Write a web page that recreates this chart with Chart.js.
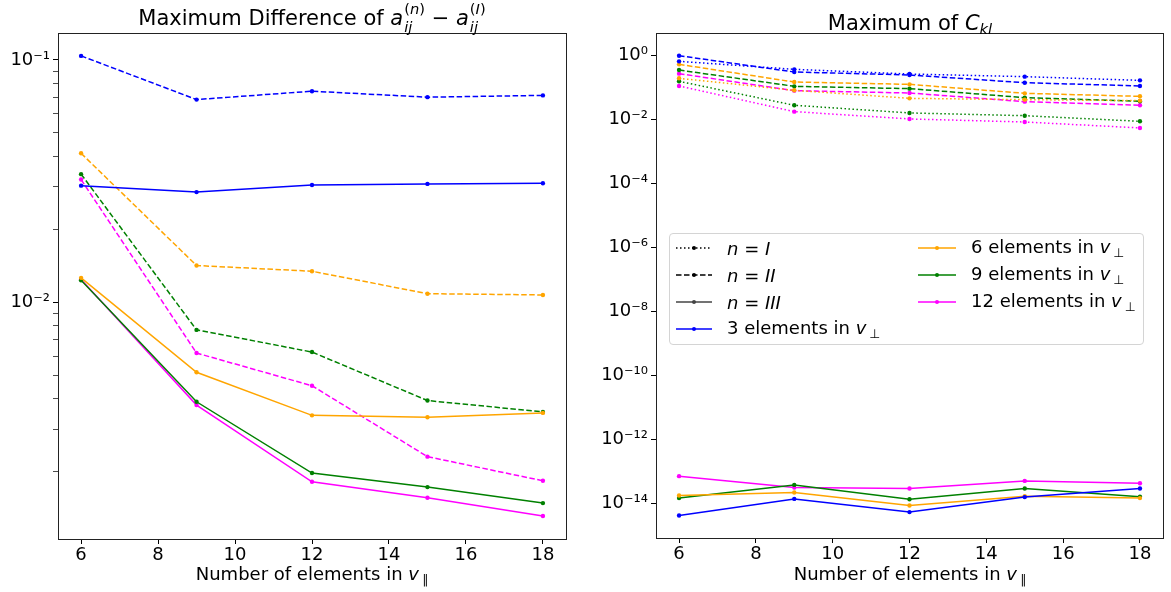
<!DOCTYPE html>
<html>
<head>
<meta charset="utf-8">
<script src="https://cdn.jsdelivr.net/npm/chart.js@4/dist/chart.umd.min.js"></script>
<style>
  body { margin: 0; background: #fff; font-family: 'DejaVu Sans', sans-serif; color: #000; }
  #wrap { position: relative; width: 1171px; height: 592px; overflow: hidden; }
  canvas { position: absolute; top: 0; }
  .title { position: absolute; font-size: 21px; line-height: 21px; white-space: nowrap; transform: translateX(-50%); }
  .xlabel { position: absolute; font-size: 18px; line-height: 18px; white-space: nowrap; transform: translateX(-50%); }
  /* stacked sub/superscript: subscript has zero width, superscript sets the width */
  .ss { font-size: 14.7px; margin-left: 1px; }
  .ss .dn { display: inline-block; width: 0; position: relative; top: 7px; }
  .ss .up { position: relative; top: -11px; }
  .sub { font-size: 0.7em; vertical-align: -0.3em; margin-left: 3px; }
  .legend { position: absolute; left: 669px; top: 233px; width: 475px; height: 112px;
            border: 1px solid #d4d4d4; border-radius: 4px; background: rgba(255,255,255,0.8); box-sizing: border-box; }
  .entry { position: absolute; height: 20px; display: flex; align-items: center; font-size: 18px; white-space: nowrap; }
  .entry svg { margin-right: 15px; }
</style>
</head>
<body>
<div id="wrap">
  <canvas id="diffChart" width="580" height="592" style="left:0"></canvas>
  <canvas id="cklChart" width="591" height="592" style="left:580px"></canvas>

  <div class="title" style="left:312px; top:8px">Maximum Difference of <i>a</i><span class="ss"><span class="dn"><i>ij</i></span><span class="up">(<i>n</i>)</span></span> − <i>a</i><span class="ss"><span class="dn"><i>ij</i></span><span class="up">(<i>I</i>)</span></span></div>
  <div class="title" style="left:910px; top:13px">Maximum of <i>C</i><span class="sub" style="margin-left:0"><i>kl</i></span></div>

  <div class="xlabel" style="left:312px; top:565px">Number of elements in <i>v</i><span class="sub">∥</span></div>
  <div class="xlabel" style="left:910px; top:565px">Number of elements in <i>v</i><span class="sub">∥</span></div>

  <div class="legend" id="legend"></div>
</div>

<script>
// x positions: number of elements in v_parallel
const nPar = [6, 9, 12, 15, 18];

// max |a_ij^(n) - a_ij^(I)|, n = II (dashed) and n = III (solid)
const diffII_3  = [0.1039, 0.0686, 0.0743, 0.0702, 0.0714];
const diffIII_3 = [0.0303, 0.0285, 0.0305, 0.0308, 0.0310];
const diffII_6  = [0.0412, 0.01419, 0.01344, 0.01086, 0.01073];
const diffIII_6 = [0.01262, 0.00515, 0.00342, 0.00336, 0.00350];
const diffII_9  = [0.0338, 0.0077, 0.00624, 0.003937, 0.003534];
const diffIII_9 = [0.01234, 0.00389, 0.001977, 0.00173, 0.001486];
const diffII_12  = [0.0321, 0.00618, 0.00453, 0.00231, 0.001837];
const diffIII_12 = [0.01242, 0.00377, 0.00182, 0.001563, 0.001315];

// max C_kl for n = I (dotted), II (dashed), III (solid)
const cklI_3   = [0.665, 0.374, 0.267, 0.221, 0.169];
const cklII_3  = [1.0, 0.309, 0.249, 0.143, 0.113];
const cklIII_3 = [4.2e-15, 1.39e-14, 5.37e-15, 1.58e-14, 2.95e-14];
const cklI_6   = [0.196, 0.0826, 0.0464, 0.0422, 0.0393];
const cklII_6  = [0.536, 0.150, 0.127, 0.0665, 0.0536];
const cklIII_6 = [1.78e-14, 2.21e-14, 8.66e-15, 1.69e-14, 1.47e-14];
const cklI_9   = [0.158, 0.0281, 0.0162, 0.0133, 0.00887];
const cklII_9  = [0.356, 0.110, 0.0931, 0.0487, 0.0374];
const cklIII_9 = [1.47e-14, 3.8e-14, 1.36e-14, 2.95e-14, 1.62e-14];
const cklI_12   = [0.113, 0.0178, 0.0105, 0.00845, 0.0055];
const cklII_12  = [0.274, 0.0806, 0.0681, 0.0365, 0.0281];
const cklIII_12 = [7.13e-14, 3.16e-14, 2.95e-14, 5.08e-14, 4.3e-14];

const xTicks = [6, 8, 10, 12, 14, 16, 18];

// --- styling ---
const BLUE = '#0000ff', ORANGE = '#ffa500', GREEN = '#008000', MAGENTA = '#ff00ff';
const DOTTED = [1.5, 2.5], DASHED = [5.5, 2.5], SOLID = [];
const FONT = 'DejaVu Sans';

function series(values, color, dash) {
    return {
        data: nPar.map((x, i) => ({ x: x, y: values[i] })),
        borderColor: color,
        backgroundColor: color,
        borderWidth: 1.5,
        borderDash: dash,
        pointRadius: 2.2,
        pointBorderWidth: 0,
        pointHoverRadius: 0,
        tension: 0,
        fill: false
    };
}

const SUP = { '-': '⁻', '0': '⁰', '1': '¹', '2': '²', '3': '³', '4': '⁴', '5': '⁵', '6': '⁶', '7': '⁷', '8': '⁸', '9': '⁹' };
function powLabel(v) {
    const e = Math.round(Math.log10(v));
    return '10' + String(e).split('').map(c => SUP[c]).join('');
}

// box around the plotting area
const frame = {
    id: 'frame',
    afterDraw(chart) {
        const { ctx, chartArea: a } = chart;
        ctx.save();
        ctx.strokeStyle = '#222';
        ctx.lineWidth = 1;
        ctx.strokeRect(Math.round(a.left) + 0.5, Math.round(a.top) + 0.5,
                       Math.round(a.right - a.left), Math.round(a.bottom - a.top));
        ctx.restore();
    }
};

function xScale(height) {
    return {
        type: 'linear', min: 5.4, max: 18.6,
        border: { display: false },
        grid: { drawOnChartArea: false, drawTicks: true, tickLength: 5, tickColor: '#000', tickWidth: 1 },
        ticks: { color: '#000', font: { family: FONT, size: 18 }, padding: 1, maxRotation: 0, autoSkip: false },
        afterBuildTicks: s => { s.ticks = xTicks.map(v => ({ value: v })); },
        afterFit: s => { s.height = height; }
    };
}

function yScale(min, max, tickValues, width) {
    return {
        type: 'logarithmic', min: min, max: max,
        border: { display: false },
        grid: {
            drawOnChartArea: false, drawTicks: true, tickLength: 5, tickColor: '#000',
            tickWidth: c => (c.tick && c.tick.major ? 1 : 0.7)
        },
        ticks: {
            color: '#000', font: { family: FONT, size: 18 }, padding: 3, autoSkip: false,
            callback: (v, i, t) => (t[i].major ? powLabel(v) : '')
        },
        afterBuildTicks: s => { s.ticks = tickValues; },
        afterFit: s => { s.width = width; }
    };
}

function baseOptions(padding, x, y) {
    return {
        responsive: false,
        animation: false,
        devicePixelRatio: 1,
        layout: { padding: padding },
        plugins: { legend: { display: false }, tooltip: { enabled: false }, title: { display: false } },
        scales: { x: x, y: y }
    };
}

// log ticks: majors at powers of ten, minors at 2..9 x 10^k for the left panel
const diffMin = Math.pow(10, -2.976), diffMax = Math.pow(10, -0.889);
const diffTicks = [];
for (let e = -3; e <= -1; e++) {
    for (let m = 1; m <= 9; m++) {
        const v = m * Math.pow(10, e);
        if (v >= diffMin && v <= diffMax) diffTicks.push({ value: v, major: m === 1 });
    }
}
const cklTicks = [];
for (let e = -14; e <= 0; e += 2) cklTicks.push({ value: Math.pow(10, e), major: true });

new Chart(document.getElementById('diffChart'), {
    type: 'line',
    data: {
        datasets: [
            series(diffII_3, BLUE, DASHED), series(diffIII_3, BLUE, SOLID),
            series(diffII_6, ORANGE, DASHED), series(diffIII_6, ORANGE, SOLID),
            series(diffII_9, GREEN, DASHED), series(diffIII_9, GREEN, SOLID),
            series(diffII_12, MAGENTA, DASHED), series(diffIII_12, MAGENTA, SOLID)
        ]
    },
    options: baseOptions({ top: 33, right: 14, left: 0, bottom: 0 },
        xScale(53), yScale(diffMin, diffMax, diffTicks, 58)),
    plugins: [frame]
});

new Chart(document.getElementById('cklChart'), {
    type: 'line',
    data: {
        datasets: [
            series(cklI_3, BLUE, DOTTED), series(cklII_3, BLUE, DASHED), series(cklIII_3, BLUE, SOLID),
            series(cklI_6, ORANGE, DOTTED), series(cklII_6, ORANGE, DASHED), series(cklIII_6, ORANGE, SOLID),
            series(cklI_9, GREEN, DOTTED), series(cklII_9, GREEN, DASHED), series(cklIII_9, GREEN, SOLID),
            series(cklI_12, MAGENTA, DOTTED), series(cklII_12, MAGENTA, DASHED), series(cklIII_12, MAGENTA, SOLID)
        ]
    },
    options: baseOptions({ top: 33, right: 8, left: 0, bottom: 0 },
        xScale(54), yScale(Math.pow(10, -15.08), Math.pow(10, 0.709), cklTicks, 76)),
    plugins: [frame]
});

// --- legend (two columns) ---
function sample(color, dash, len) {
    const da = dash.length ? `stroke-dasharray="${dash.join(' ')}"` : '';
    return `<svg width="${len}" height="10"><line x1="0" y1="5" x2="${len}" y2="5" stroke="${color}" stroke-width="1.5" ${da}/>` +
           `<circle cx="${len / 2}" cy="5" r="2" fill="${color}"/></svg>`;
}
const perp = 'elements in <i>v</i><span class="sub">⊥</span>';
const legendEntries = [
    { col: 0, row: 0, color: '#000', dash: DOTTED, text: '<i>n</i> = <i>I</i>' },
    { col: 0, row: 1, color: '#000', dash: DASHED, text: '<i>n</i> = <i>II</i>' },
    { col: 0, row: 2, color: '#444', dash: SOLID, text: '<i>n</i> = <i>III</i>' },
    { col: 0, row: 3, color: BLUE, dash: SOLID, text: '3 ' + perp },
    { col: 1, row: 0, color: ORANGE, dash: SOLID, text: '6 ' + perp },
    { col: 1, row: 1, color: GREEN, dash: SOLID, text: '9 ' + perp },
    { col: 1, row: 2, color: MAGENTA, dash: SOLID, text: '12 ' + perp }
];
const legendBox = document.getElementById('legend');
legendEntries.forEach(en => {
    const div = document.createElement('div');
    div.className = 'entry';
    div.style.left = (en.col ? 248 : 6) + 'px';
    div.style.top = (4 + en.row * 27) + 'px';
    div.innerHTML = sample(en.color, en.dash, en.col ? 38 : 36) + '<span>' + en.text + '</span>';
    legendBox.appendChild(div);
});
</script>
</body>
</html>
